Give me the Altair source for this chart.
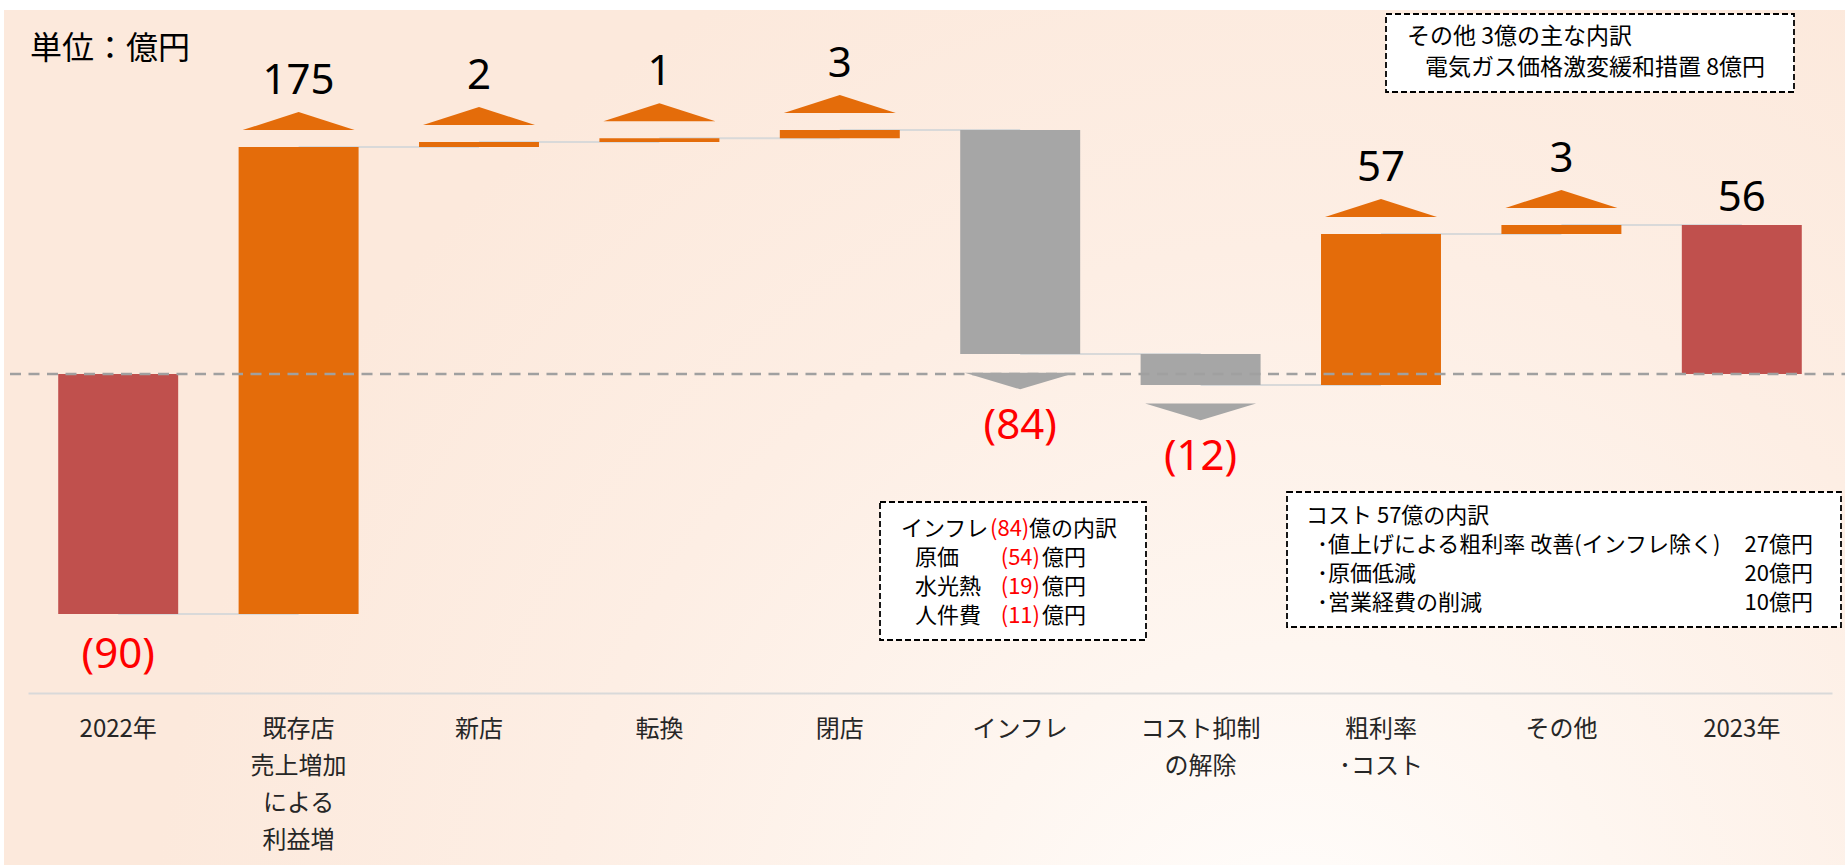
import altair as alt
import pandas as pd

# ---------------- data ----------------
categories = ["2022年", "既存店|売上増加|による|利益増", "新店", "転換", "閉店",
              "インフレ", "コスト抑制|の解除", "粗利率|･コスト", "その他", "2023年"]
kinds = ["total", "up", "up", "up", "up", "down", "down", "up", "up", "total"]
# change of each step (億円); last total is the running sum
deltas = [-90.0, 175.1, 1.9, 1.4, 3.1, -84.0, -11.6, 56.6, 3.4, None]
value_labels = ["(90)", "175", "2", "1", "3", "(84)", "(12)", "57", "3", "56"]

box1_lines = ["その他 3億の主な内訳", "電気ガス価格激変緩和措置 8億円"]
box2_heads = ["原価", "水光熱", "人件費"]
box2_values = ["(54)", "(19)", "(11)"]
box3_title = "コスト 57億の内訳"
box3_items = ["･値上げによる粗利率 改善(インフレ除く)", "･原価低減", "･営業経費の削減"]
box3_values = ["27億円", "20億円", "10億円"]

COL = {"total": "#C0504D", "up": "#E46C0A", "down": "#A6A6A6"}
JP = "Noto Sans CJK JP"
NUM = "Noto Sans"

rows = []
running = 0.0
for i, (c, k, d, lab) in enumerate(zip(categories, kinds, deltas, value_labels)):
    if k == "total":
        if d is not None:
            start, end = 0.0, d
            running = d
        else:
            start, end = 0.0, running
    else:
        start, end = running, running + d
        running = end
    rows.append(dict(cat=c, kind=k, start=start, end=end, label=lab,
                     color=COL[k]))
df = pd.DataFrame(rows)
conn = pd.DataFrame({"cat": categories[:-1], "next": categories[1:],
                     "level": list(df["end"][:-1])})

# ---------------- scales ----------------
xscale = alt.Scale(domain=categories, paddingInner=0.335, paddingOuter=0.1675)
xaxis = alt.Axis(title=None, labelExpr="split(datum.label, '|')", labelAngle=0,
                 labelFont=JP, labelFontSize=24, labelLineHeight=37,
                 labelColor="#262626", labelPadding=24, labelBaseline="top",
                 ticks=False, domainColor="#d9d9d9", domainWidth=2,
                 labelLimit=400, labelOverlap=False, grid=False, zindex=1)
X = alt.X("cat:N", scale=xscale, axis=xaxis)
ys = alt.Scale(domain=[-119.625, 136.5], nice=False, zero=False)

one = pd.DataFrame({"a": [0]})

bg_grad = alt.RadialGradient(
    gradient="radial", x1=0.7, y1=0.8, r1=0, x2=0.7, y2=0.8, r2=0.62,
    stops=[alt.GradientStop(color="#fffefd", offset=0),
           alt.GradientStop(color="#fef6f0", offset=0.3),
           alt.GradientStop(color="#fdeee4", offset=0.65),
           alt.GradientStop(color="#fce9dc", offset=1)])
background = alt.Chart(one).mark_rect(fill=bg_grad).encode(
    x=alt.value(-24), x2=alt.value(1817), y=alt.value(0), y2=alt.value(855))

connectors = alt.Chart(conn).mark_rule(color="#d9d9d9", strokeWidth=2).encode(
    x=X, x2="next:N", y=alt.Y("level:Q", scale=ys, axis=None))

base = alt.Chart(df)
bars = base.mark_bar().encode(
    x=X, y=alt.Y("start:Q", scale=ys, axis=None), y2="end:Q",
    color=alt.Color("color:N", scale=None))

zero_line = alt.Chart(one).mark_rule(color="#a0a0a0", strokeWidth=2.5,
                                     strokeDash=[11, 7.5]).encode(
    y=alt.Y("datum_zero:Q", scale=ys, axis=None), x=alt.value(-18), x2=alt.value(1817)
).transform_calculate(datum_zero="0")

UP = "M-1,0.16L0,-0.16L1,0.16Z"
DOWN = "M-1,-0.15L0,0.15L1,-0.15Z"
tri_up = base.transform_filter("datum.kind == 'up'").mark_point(
    shape=UP, size=12544, filled=True, opacity=1, color=COL["up"], yOffset=-26
).encode(x=X, y=alt.Y("end:Q", scale=ys, axis=None))
tri_down = base.transform_filter("datum.kind == 'down'").mark_point(
    shape=DOWN, size=12321, filled=True, opacity=1, color=COL["down"], yOffset=27
).encode(x=X, y=alt.Y("end:Q", scale=ys, axis=None))


def vlabels(filt, dy, color):
    return base.transform_filter(filt).mark_text(
        font=NUM, fontSize=42, baseline="alphabetic", align="center", dy=dy, color=color
    ).encode(x=X, y=alt.Y("end:Q", scale=ys, axis=None), text="label:N")


lab_up = vlabels("datum.kind == 'up'", -53, "#000000")
lab_down = vlabels("datum.kind == 'down'", 85, "#ff0000")
lab_tneg = vlabels("datum.kind == 'total' && datum.end < 0", 54, "#ff0000")
lab_tpos = vlabels("datum.kind == 'total' && datum.end >= 0", -14, "#000000")


def box(x1, y1, x2, y2):
    return alt.Chart(one).mark_rect(fill="#ffffff", stroke="#000000", strokeWidth=1.8,
                                    strokeDash=[6, 3]).encode(
        x=alt.value(x1), x2=alt.value(x2), y=alt.value(y1), y2=alt.value(y2))


def txt(s, x, y, size=22, color="#000000", align="left", font=JP):
    return alt.Chart(one).mark_text(font=font, fontSize=size, align=align,
                                    baseline="middle", color=color).encode(
        x=alt.value(x), y=alt.value(y), text=alt.value(s))


layers = [background, connectors, bars, zero_line, tri_up, tri_down,
          lab_up, lab_down, lab_tneg, lab_tpos]

layers.append(txt("単位：億円", 2, 39, size=32))

# box 1
layers.append(box(1358, 4, 1766, 82))
layers.append(txt(box1_lines[0], 1379, 27, size=23))
layers.append(txt(box1_lines[1], 1397, 58, size=23))

# box 2
layers.append(box(852, 492, 1118, 630))
layers.append(txt("インフレ", 873, 519))
layers.append(txt("(84)", 962, 519, color="#ff0000"))
layers.append(txt("億の内訳", 1001, 519))
for j, yy in enumerate([548, 577, 606]):
    layers.append(txt(box2_heads[j], 887, yy))
    layers.append(txt(box2_values[j], 1012, yy, color="#ff0000", align="right"))
    layers.append(txt("億円", 1014, yy))

# box 3
layers.append(box(1259, 482, 1813, 617))
layers.append(txt(box3_title, 1278, 506))
for j, yy in enumerate([535, 564, 593]):
    layers.append(txt(box3_items[j], 1289, yy))
    layers.append(txt(box3_values[j], 1785, yy, align="right"))

chart = alt.layer(*layers).properties(
    width=1804, height=683,
    autosize=alt.AutoSizeParams(type="none"),
    padding={"left": 28, "top": 10, "right": 13, "bottom": 172},
).configure_view(stroke=None).configure(background="#ffffff")

chart.save("out.html", embed_options={"renderer": "svg", "actions": False})
